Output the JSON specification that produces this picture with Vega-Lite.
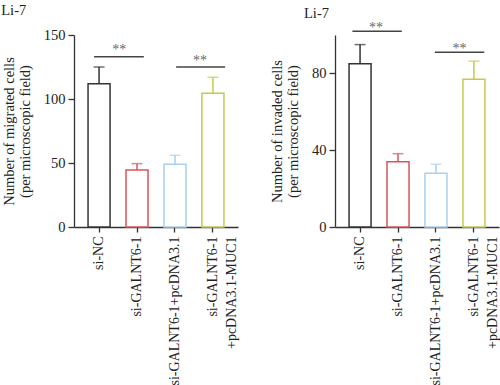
{
  "$schema": "https://vega.github.io/schema/vega-lite/v6.json",
  "padding": {"left": 1, "top": 2, "right": 0, "bottom": 0},
  "spacing": 30,
  "config": {
    "font": "Liberation Serif",
    "view": {"stroke": null},
    "axis": {"labelFont": "Liberation Serif", "titleFont": "Liberation Serif", "labelFontSize": 14.5, "titleFontSize": 14.5, "titleFontWeight": "normal", "labelColor": "#222", "titleColor": "#222", "domainColor": "#333", "tickColor": "#333", "domainWidth": 1.3, "tickWidth": 1.3, "grid": false, "labelOverlap": false},
    "axisY": {"labelOverlap": false, "labelSeparation": 0},
    "title": {"font": "Liberation Serif", "fontSize": 14.5, "fontWeight": "normal", "anchor": "start", "frame": "bounds", "color": "#222"}
  },
  "datasets": {
    "mig": [
      {"group": "si-NC", "value": 112, "upper": 125},
      {"group": "si-GALNT6-1", "value": 44.5, "upper": 49.5},
      {"group": "si-GALNT6-1+pcDNA3.1", "value": 49, "upper": 56},
      {"group": "si-GALNT6-1|+pcDNA3.1-MUC1", "value": 104.5, "upper": 117}
    ],
    "migsig": [
      {"from": -0.13, "to": 1.18, "y": 133, "mid": 0.53, "ty": 138, "label": "**"},
      {"from": 2.03, "to": 3.32, "y": 125, "mid": 2.66, "ty": 130, "label": "**"}
    ],
    "inv": [
      {"group": "si-NC", "value": 85, "upper": 95},
      {"group": "si-GALNT6-1", "value": 34, "upper": 38.2},
      {"group": "si-GALNT6-1+pcDNA3.1", "value": 28, "upper": 32.7},
      {"group": "si-GALNT6-1|+pcDNA3.1-MUC1", "value": 77, "upper": 86.4}
    ],
    "invsig": [
      {"from": -0.2, "to": 1.1, "y": 102, "mid": 0.42, "ty": 103.5, "label": "**"},
      {"from": 1.97, "to": 3.27, "y": 91, "mid": 2.62, "ty": 92.5, "label": "**"}
    ]
  },
  "hconcat": [
    {
      "title": {"text": "Li-7", "offset": 9},
      "width": 164,
      "height": 192,
      "layer": [
        {
          "data": {"name": "mig"},
          "layer": [
            {
              "mark": {"type": "bar", "fill": "white", "strokeWidth": 1.5},
              "encoding": {
                "x": {"field": "group", "type": "nominal", "sort": null,
                  "scale": {"paddingInner": 0.42, "paddingOuter": 0.37},
                  "axis": {"title": null, "labelAngle": -90, "labelAlign": "right", "labelBaseline": "middle", "labelPadding": 4, "tickSize": 5, "labelFontSize": 14, "labelExpr": "split(datum.label, '|')", "labelLineHeight": 19}},
                "y": {"field": "value", "type": "quantitative",
                  "scale": {"domain": [0, 150], "nice": false},
                  "axis": {"values": [0, 50, 100, 150], "labelOverlap": false, "tickSize": 6, "labelPadding": 3, "title": ["Number of migrated cells", "(per microscopic field)"], "titlePadding": 11, "titleLineHeight": 16}},
                "stroke": {"field": "group", "type": "nominal", "sort": null,
                  "scale": {"range": ["#333333", "#d9545a", "#a8d0f0", "#c8c850"]}, "legend": null}
              }
            },
            {
              "mark": {"type": "rule", "strokeWidth": 1.5},
              "encoding": {
                "x": {"field": "group", "type": "nominal", "sort": null},
                "y": {"field": "value", "type": "quantitative"},
                "y2": {"field": "upper"},
                "stroke": {"field": "group", "type": "nominal", "sort": null, "legend": null}
              }
            },
            {
              "mark": {"type": "tick", "orient": "horizontal", "size": 11, "thickness": 1.5},
              "encoding": {
                "x": {"field": "group", "type": "nominal", "sort": null},
                "y": {"field": "upper", "type": "quantitative"},
                "color": {"field": "group", "type": "nominal", "sort": null, "scale": {"range": ["#333333", "#d9545a", "#a8d0f0", "#c8c850"]}, "legend": null}
              }
            }
          ]
        },
        {
          "data": {"name": "migsig"},
          "layer": [
            {
              "mark": {"type": "rule", "color": "#444", "strokeWidth": 1.5},
              "encoding": {
                "x": {"field": "from", "type": "quantitative", "scale": {"domain": [-0.658, 3.658], "nice": false, "zero": false}, "axis": null},
                "x2": {"field": "to"},
                "y": {"field": "y", "type": "quantitative"}
              }
            },
            {
              "mark": {"type": "text", "fontSize": 14, "fill": "#666"},
              "encoding": {
                "x": {"field": "mid", "type": "quantitative", "scale": {"domain": [-0.658, 3.658], "nice": false, "zero": false}, "axis": null},
                "y": {"field": "ty", "type": "quantitative"},
                "text": {"field": "label"}
              }
            }
          ]
        }
      ],
      "resolve": {"scale": {"x": "independent"}}
    },
    {
      "title": {"text": "Li-7", "offset": 0, "anchor": "start", "frame": "group", "dx": -31},
      "width": 164,
      "height": 192,
      "layer": [
        {
          "data": {"name": "inv"},
          "layer": [
            {
              "mark": {"type": "bar", "fill": "white", "strokeWidth": 1.5},
              "encoding": {
                "x": {"field": "group", "type": "nominal", "sort": null,
                  "scale": {"paddingInner": 0.42, "paddingOuter": 0.37},
                  "axis": {"title": null, "labelAngle": -90, "labelAlign": "right", "labelBaseline": "middle", "labelPadding": 4, "tickSize": 5, "labelFontSize": 14, "labelExpr": "split(datum.label, '|')", "labelLineHeight": 19}},
                "y": {"field": "value", "type": "quantitative",
                  "scale": {"domain": [0, 100], "nice": false},
                  "axis": {"values": [0, 20, 40, 60, 80, 100], "labelOverlap": false, "labelSeparation": 0, "tickSize": 6, "labelPadding": 3, "title": ["Number of invaded cells", "(per microscopic field)"], "titlePadding": 11, "titleLineHeight": 16}},
                "stroke": {"field": "group", "type": "nominal", "sort": null,
                  "scale": {"range": ["#333333", "#d9545a", "#a8d0f0", "#c8c850"]}, "legend": null}
              }
            },
            {
              "mark": {"type": "rule", "strokeWidth": 1.5},
              "encoding": {
                "x": {"field": "group", "type": "nominal", "sort": null},
                "y": {"field": "value", "type": "quantitative"},
                "y2": {"field": "upper"},
                "stroke": {"field": "group", "type": "nominal", "sort": null, "legend": null}
              }
            },
            {
              "mark": {"type": "tick", "orient": "horizontal", "size": 11, "thickness": 1.5},
              "encoding": {
                "x": {"field": "group", "type": "nominal", "sort": null},
                "y": {"field": "upper", "type": "quantitative"},
                "color": {"field": "group", "type": "nominal", "sort": null, "scale": {"range": ["#333333", "#d9545a", "#a8d0f0", "#c8c850"]}, "legend": null}
              }
            }
          ]
        },
        {
          "data": {"name": "invsig"},
          "layer": [
            {
              "mark": {"type": "rule", "color": "#444", "strokeWidth": 1.5},
              "encoding": {
                "x": {"field": "from", "type": "quantitative", "scale": {"domain": [-0.658, 3.658], "nice": false, "zero": false}, "axis": null},
                "x2": {"field": "to"},
                "y": {"field": "y", "type": "quantitative"}
              }
            },
            {
              "mark": {"type": "text", "fontSize": 14, "fill": "#666"},
              "encoding": {
                "x": {"field": "mid", "type": "quantitative", "scale": {"domain": [-0.658, 3.658], "nice": false, "zero": false}, "axis": null},
                "y": {"field": "ty", "type": "quantitative"},
                "text": {"field": "label"}
              }
            }
          ]
        }
      ],
      "resolve": {"scale": {"x": "independent"}}
    }
  ]
}
